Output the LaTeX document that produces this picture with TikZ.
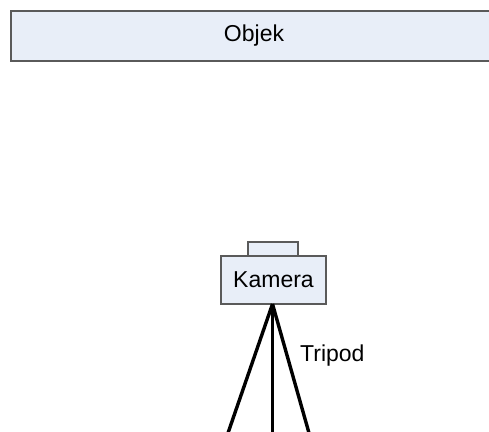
\documentclass[tikz,border=0pt]{standalone}
\usepackage{fontspec}
\setmainfont{Liberation Sans}
\definecolor{boxfill}{RGB}{232,238,248}
\definecolor{boxline}{RGB}{90,90,90}
\begin{document}
\begin{tikzpicture}[x=1pt,y=1pt,
  box/.style={draw=boxline,fill=boxfill,line width=1.1pt,inner sep=0pt,font=\fontsize{23}{26}\selectfont},
  leg/.style={line width=3.4pt,black},
  lbl/.style={inner sep=0pt,font=\fontsize{23}{26}\selectfont}]
\clip (0,0) rectangle (489,-431);
\fill[white] (0,0) rectangle (489,-431);
\node[box,minimum width=486pt,minimum height=50pt] (objek) at (254,-36) {Objek};
\node[box,minimum width=50pt,minimum height=14pt] (view) at (273,-249) {};
\node[box,minimum width=105pt,minimum height=48pt] (kamera) at (273.5,-280) {Kamera};
\coordinate (apex) at (272.5,-304);
\coordinate (legL) at (228,-433);
\coordinate (legM) at (272.5,-433);
\coordinate (legR) at (309,-433);
\draw[leg] (apex) -- (legL);
\draw[leg] (apex) -- (legM);
\draw[leg] (apex) -- (legR);
\node[lbl,anchor=west] (tripod) at (300,-356) {Tripod};
\end{tikzpicture}
\end{document}
